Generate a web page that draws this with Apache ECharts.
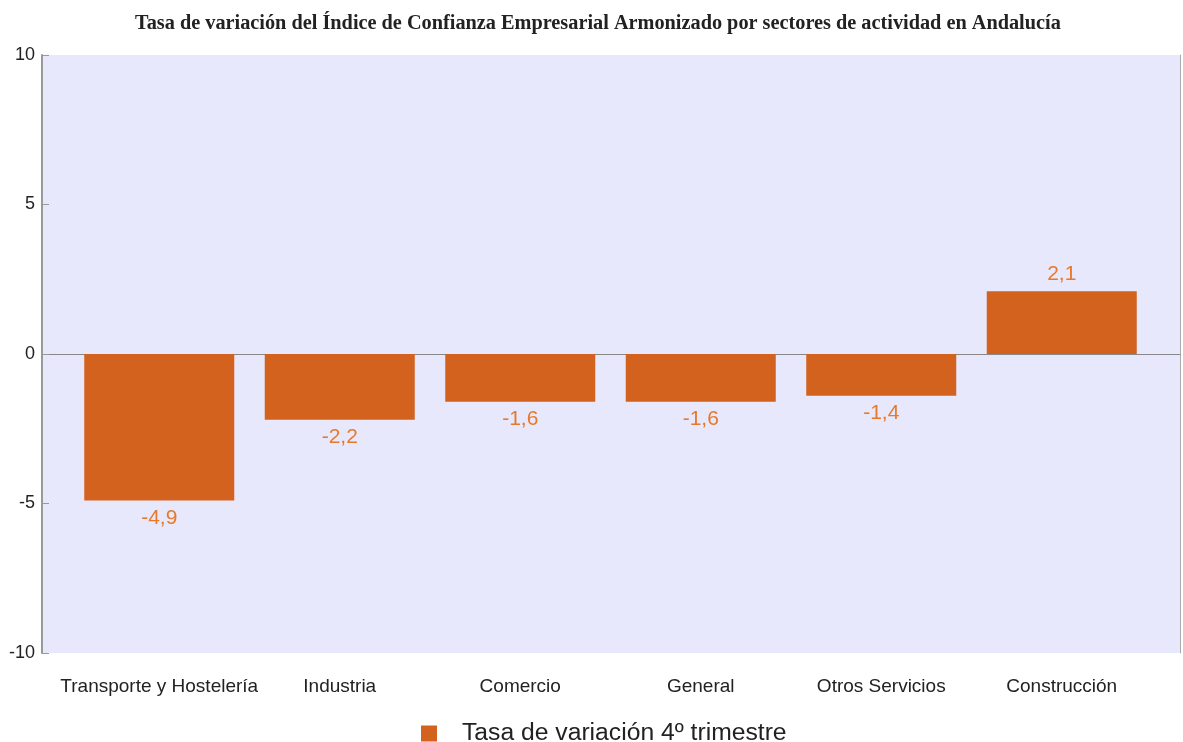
<!DOCTYPE html>
<html>
<head>
<meta charset="utf-8">
<script src="https://cdn.jsdelivr.net/npm/echarts@6/dist/echarts.min.js"></script>
<style>
  html, body { margin: 0; padding: 0; background: #fff; }
  #chart { width: 1183px; height: 742px; }
</style>
</head>
<body>
<div id="chart"></div>
<script>
  // sectores y tasas de variacion (4o trimestre)
  var categories = ['Transporte y Hostelería', 'Industria', 'Comercio', 'General', 'Otros Servicios', 'Construcción']
  var values = [-4.9, -2.2, -1.6, -1.6, -1.4, 2.1]
  var yTicks = [-10, -5, 0, 5, 10]
  var seriesName = 'Tasa de variación 4º trimestre'

  var chart = echarts.init(document.getElementById('chart'))

  var barData = values.map(function (v) {
    return {
      value: v,
      label: { position: v < 0 ? 'bottom' : 'top' },
    }
  })

  var yAxisBase = {
    type: 'value',
    min: yTicks[0],
    max: yTicks[yTicks.length - 1],
    interval: 5,
    splitLine: { show: false },
  }

  var option = {
    animation: false,
    title: {
      text: 'Tasa de variación del Índice de Confianza Empresarial Armonizado por sectores de actividad en Andalucía',
      left: 130,
      top: 9,
      textStyle: {
        fontFamily: 'Liberation Serif',
        fontWeight: 'bold',
        fontSize: 20.3,
        color: '#222',
      },
    },
    legend: {
      data: [seriesName],
      top: 716,
      left: 416,
      itemWidth: 16,
      itemHeight: 16,
      icon: 'rect',
      textStyle: {
        fontFamily: 'Liberation Sans',
        fontSize: 24.7,
        color: '#222',
        padding: [0, 0, 0, 20],
      },
    },
    // grid 0: fondo y eje y; grid 1: barras con margen lateral
    grid: [
      {
        left: 42,
        right: 3,
        top: 55,
        bottom: 89,
        show: true,
        backgroundColor: '#E8E8FC',
        borderWidth: 0,
      },
      {
        left: 69,
        right: 31,
        top: 55,
        bottom: 89,
      },
    ],
    xAxis: [
      {
        type: 'category',
        gridIndex: 0,
        data: categories,
        axisLine: { onZero: true, lineStyle: { color: '#888', width: 1 } },
        axisTick: { show: false },
        axisLabel: { show: false },
      },
      {
        type: 'category',
        gridIndex: 1,
        data: categories,
        axisLine: { show: false },
        axisTick: { show: false },
        axisLabel: {
          interval: 0,
          margin: 24,
          fontFamily: 'Liberation Sans',
          fontSize: 19,
          color: '#222',
        },
      },
    ],
    yAxis: [
      Object.assign({}, yAxisBase, {
        gridIndex: 0,
        position: 'left',
        axisLine: { show: true, lineStyle: { color: '#999', width: 2 } },
        axisTick: { show: true, inside: true, length: 7, lineStyle: { color: '#999' } },
        axisLabel: {
          margin: 7,
          fontFamily: 'Liberation Sans',
          fontSize: 18,
          color: '#222',
        },
      }),
      Object.assign({}, yAxisBase, {
        gridIndex: 0,
        position: 'right',
        axisLine: { show: true, lineStyle: { color: '#aaa', width: 1 } },
        axisTick: { show: false },
        axisLabel: { show: false },
      }),
      Object.assign({}, yAxisBase, {
        gridIndex: 1,
        show: false,
      }),
    ],
    series: [
      {
        name: seriesName,
        type: 'bar',
        xAxisIndex: 1,
        yAxisIndex: 2,
        barWidth: 150,
        data: barData,
        itemStyle: { color: '#D2621E' },
        label: {
          show: true,
          distance: 7,
          fontFamily: 'Liberation Sans',
          fontSize: 21,
          color: '#E8792A',
          formatter: function (p) {
            return String(p.value).replace('.', ',')
          },
        },
      },
    ],
  }

  chart.setOption(option)
</script>
</body>
</html>
